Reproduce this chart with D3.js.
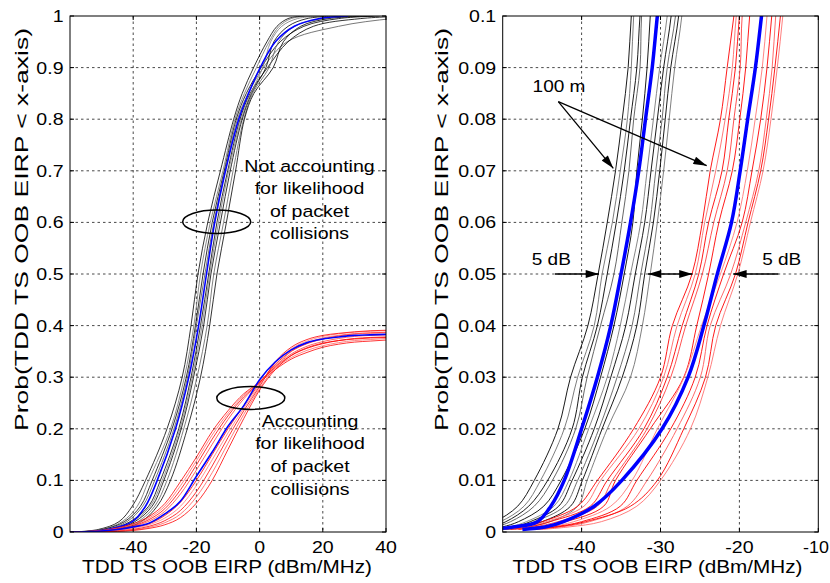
<!DOCTYPE html>
<html>
<head>
<meta charset="utf-8">
<script src="https://cdn.jsdelivr.net/npm/d3@7"></script>
<style>
  html, body { margin: 0; padding: 0; background: #fff; }
  svg { display: block; font-family: "Liberation Sans", Arial, Helvetica, sans-serif; }
</style>
</head>
<body>
<svg id="chart" width="830" height="583"></svg>
<script>
// ---------- Overview panel: full CDFs ----------
// Probability levels at which the "not accounting" curves are sampled (x in dBm/MHz)
const overviewLevels = [0, 0.005, 0.02, 0.05, 0.1, 0.2, 0.3, 0.4, 0.5, 0.6, 0.7, 0.8, 0.85, 0.9, 0.95, 0.98, 0.995, 1];
const overviewBlack = [
  [-59, -51, -44.5, -40.3, -36.1, -29.3, -24.5, -21.7, -19.5, -16.4, -12.4, -8.2, -5.5, -1.9, 2.3, 5.5, 9, 14],
  [-58, -50, -43.5, -38.7, -35.1, -28.2, -23.8, -20.8, -18.7, -15.6, -11.6, -7.8, -4.8, -1.0, 3.0, 6.2, 10, 16],
  [-57.5, -49.5, -42.8, -37.7, -34.0, -27.7, -23.2, -20.3, -17.9, -15.0, -11.2, -7.4, -4.2, 0.5, 6.5, 14, 25, 38],
  [-57, -48.5, -42, -37.0, -33.2, -27.1, -22.8, -20.0, -17.3, -14.5, -10.9, -7.0, -3.6, 1.2, 8.7, 25, 42, 55],
  [-56.5, -47.5, -41, -35.1, -31.4, -25.6, -21.7, -18.7, -16.1, -13.5, -10.1, -6.2, -3.0, 2.5, 9.0, 17, 32, 48],
  [-56, -47, -40.3, -34.6, -30.8, -25.2, -21.3, -18.2, -15.8, -13.0, -9.8, -5.8, -2.8, 1.0, 3.5, 7.0, 12, 20],
  [-55.5, -46, -39.5, -34.0, -30.3, -24.8, -20.9, -17.7, -15.4, -12.4, -9.3, -5.5, -2.5, 2.0, 4.5, 9, 15, 24],
  [-55, -45.5, -38.5, -33.2, -29.3, -24.0, -19.8, -16.6, -14.5, -11.4, -8.4, -5.0, -2.2, 3.0, 6.0, 11, 20, 32],
  [-54.5, -45, -37.5, -32.4, -28.2, -22.9, -18.7, -15.8, -13.5, -10.5, -7.6, -4.8, -1.8, 4.3, 7.5, 13, 22, 36]
];
const overviewBlackMean = [-56, -48, -40.3, -36.1, -32.4, -26.6, -22.4, -19.3, -16.8, -14.2, -10.8, -6.6, -3.5, 0.2, 5.0, 11, 19, 28];

// EIRP grid (dBm/MHz) at which the "accounting" curves are sampled (values are probabilities)
const overviewGridX = [-60, -55, -50, -45, -40, -35, -30, -25, -20, -15, -10, -5, 0, 5, 10, 15, 20, 25, 30, 35, 40];
const overviewRed = [
  [0, 0.001, 0.003, 0.008, 0.016, 0.03, 0.055, 0.098, 0.145, 0.195, 0.235, 0.268, 0.29, 0.315, 0.335, 0.348, 0.358, 0.364, 0.368, 0.370, 0.372],
  [0, 0.001, 0.0025, 0.007, 0.014, 0.027, 0.05, 0.09, 0.138, 0.188, 0.23, 0.265, 0.292, 0.318, 0.338, 0.352, 0.361, 0.367, 0.371, 0.373, 0.375],
  [0, 0.0008, 0.002, 0.006, 0.012, 0.024, 0.045, 0.082, 0.13, 0.18, 0.225, 0.262, 0.29, 0.32, 0.342, 0.356, 0.365, 0.371, 0.375, 0.377, 0.378],
  [0, 0.0006, 0.002, 0.005, 0.011, 0.021, 0.04, 0.074, 0.12, 0.17, 0.218, 0.258, 0.29, 0.322, 0.345, 0.36, 0.369, 0.375, 0.379, 0.381, 0.382],
  [0, 0.0005, 0.0015, 0.004, 0.009, 0.016, 0.032, 0.058, 0.1, 0.15, 0.2, 0.245, 0.288, 0.325, 0.35, 0.365, 0.374, 0.38, 0.384, 0.386, 0.387],
  [0, 0.0004, 0.001, 0.003, 0.007, 0.014, 0.027, 0.05, 0.09, 0.14, 0.192, 0.24, 0.285, 0.328, 0.355, 0.37, 0.379, 0.384, 0.387, 0.389, 0.39],
  [0, 0.0003, 0.001, 0.002, 0.005, 0.011, 0.022, 0.042, 0.078, 0.128, 0.183, 0.235, 0.282, 0.33, 0.358, 0.373, 0.381, 0.385, 0.388, 0.39, 0.391],
  [0, 0.0002, 0.0007, 0.0015, 0.004, 0.009, 0.018, 0.035, 0.068, 0.115, 0.172, 0.228, 0.278, 0.32, 0.35, 0.366, 0.376, 0.381, 0.384, 0.385, 0.386],
  [0, 0.0001, 0.0005, 0.001, 0.003, 0.007, 0.014, 0.028, 0.056, 0.1, 0.16, 0.22, 0.275, 0.315, 0.342, 0.357, 0.366, 0.371, 0.374, 0.376, 0.377]
];
const overviewRedMean = [0, 0.0005, 0.002, 0.005, 0.01, 0.017, 0.035, 0.06, 0.108, 0.155, 0.205, 0.245, 0.295, 0.33, 0.353, 0.367, 0.374, 0.378, 0.381, 0.382, 0.383];

// ---------- Tail panel: lower 10% of the CDFs ----------
const tailLevels = [0.0005, 0.001, 0.002, 0.005, 0.01, 0.02, 0.03, 0.04, 0.05, 0.06, 0.07, 0.08, 0.09, 0.1, 0.11];
const tailBlack = [
  [-56, -53, -51, -48.1, -46.0, -43.0, -41.4, -39.2, -37.9, -36.75, -35.7, -34.85, -34.1, -33.7, -33.1],
  [-55, -52.5, -50.3, -47.3, -45.2, -42.2, -40.5, -38.4, -37.4, -36.1, -35.1, -34.2, -33.7, -33.4, -32.8],
  [-54, -51.5, -49.6, -46.7, -44.3, -41.2, -39.9, -38.0, -36.75, -35.6, -34.6, -33.8, -33.0, -32.6, -32.0],
  [-53.5, -51, -49, -46.0, -43.7, -40.75, -39.3, -37.6, -35.9, -34.9, -34.0, -33.4, -32.6, -32.4, -31.8],
  [-52, -50, -48, -44.8, -42.6, -39.6, -37.6, -35.9, -34.6, -33.5, -33.0, -32.3, -31.7, -31.3, -30.9],
  [-51, -49, -47, -43.5, -41.6, -39.1, -36.75, -35.1, -33.8, -32.5, -31.7, -30.9, -30.1, -29.15, -28.6],
  [-50.5, -48.5, -46.5, -42.9, -41.2, -38.4, -36.3, -34.4, -33.2, -32.0, -31.2, -30.4, -29.6, -28.65, -28.1],
  [-50, -48, -46, -42.2, -40.5, -37.8, -35.5, -33.6, -32.5, -31.35, -30.6, -29.8, -29.15, -28.1, -27.6],
  [-49.5, -47.5, -45, -41.4, -39.9, -37.4, -34.85, -33.0, -32.0, -30.9, -30.1, -29.4, -28.7, -27.7, -27.2],
  [-49, -47, -44, -40.5, -39.3, -36.75, -33.8, -32.3, -31.3, -30.4, -29.6, -28.9, -28.2, -27.3, -26.8]
];
const tailBlackMean = [-52, -48.5, -45.6, -43.9, -42.2, -40.0, -38.0, -36.3, -35.0, -33.8, -32.75, -31.9, -31.05, -30.4, -29.7];
const tailRed = [
  [-50, -47.5, -45, -40.5, -38.0, -33.4, -30.0, -28.5, -26.0, -24.7, -23.7, -22.4, -21.55, -20.7, -19.9],
  [-49.5, -47, -44.5, -39.7, -37.6, -32.75, -29.6, -27.9, -25.6, -24.4, -23.0, -21.8, -20.9, -20.4, -19.6],
  [-49, -46.5, -44, -38.9, -36.75, -32.1, -29.15, -27.25, -25.15, -23.9, -22.2, -21.35, -20.5, -20.0, -19.3],
  [-48.5, -46, -43, -38.0, -36.1, -31.7, -28.7, -26.8, -24.7, -23.25, -21.55, -20.7, -19.9, -19.65, -18.9],
  [-48, -45, -42, -37.2, -35.7, -31.3, -27.05, -25.4, -23.9, -22.6, -20.9, -19.95, -19.2, -18.7, -18.0],
  [-47, -44, -41, -36.3, -33.6, -30.4, -27.0, -24.8, -22.4, -20.3, -19.0, -18.0, -17.1, -16.5, -15.9],
  [-46.5, -43.5, -40, -35.1, -33.0, -28.7, -25.6, -24.1, -22.0, -19.65, -18.4, -17.3, -16.5, -15.9, -15.3],
  [-45.5, -42.5, -39, -34.2, -31.7, -27.9, -24.95, -23.7, -21.1, -19.2, -17.55, -16.6, -15.85, -15.4, -14.8],
  [-46, -43, -39.5, -33.8, -30.4, -27.05, -24.3, -23.0, -20.5, -18.9, -17.3, -16.3, -15.5, -14.8, -14.2],
  [-45, -41.5, -37.5, -33.0, -30.0, -26.2, -24.0, -22.4, -20.2, -18.6, -17.0, -16.0, -15.2, -14.5, -13.9]
];
const tailRedMean = [-47.5, -44.5, -42.3, -38.4, -34.9, -29.8, -26.5, -24.5, -22.8, -21.0, -19.9, -18.95, -17.97, -17.2, -16.5];

// ---------- Ticks ----------
const overviewXTicks = [-40, -20, 0, 20, 40];
const overviewXTickLabels = ["-40", "-20", "0", "20", "40"];
const overviewYTicks = [0, 0.1, 0.2, 0.3, 0.4, 0.5, 0.6, 0.7, 0.8, 0.9, 1];
const overviewYTickLabels = ["0", "0.1", "0.2", "0.3", "0.4", "0.5", "0.6", "0.7", "0.8", "0.9", "1"];
const tailXTicks = [-40, -30, -20, -10];
const tailXTickLabels = ["-40", "-30", "-20", "-10"];
const tailYTicks = [0, 0.01, 0.02, 0.03, 0.04, 0.05, 0.06, 0.07, 0.08, 0.09, 0.1];
const tailYTickLabels = ["0", "0.01", "0.02", "0.03", "0.04", "0.05", "0.06", "0.07", "0.08", "0.09", "0.1"];

const xAxisTitle = "TDD TS OOB EIRP (dBm/MHz)";
const yAxisTitle = "Prob(TDD TS OOB EIRP < x-axis)";

// ---------- Drawing ----------
const svg = d3.select("#chart");
svg.append("rect").attr("width", 830).attr("height", 583).attr("fill", "#fff");
const defs = svg.append("defs");
defs.append("marker")
  .attr("id", "head")
  .attr("viewBox", "0 0 10 6")
  .attr("refX", 10).attr("refY", 3)
  .attr("markerUnits", "userSpaceOnUse")
  .attr("markerWidth", 15).attr("markerHeight", 8)
  .attr("orient", "auto-start-reverse")
  .append("path").attr("d", "M0,0 L10,3 L0,6 Z").attr("fill", "#000");

const FONT = 17, STRETCH = 1.15;

function stretchedText(g, x, y, txt, opt = {}) {
  const grp = g.append("g")
    .attr("transform", `translate(${x},${y}) rotate(${opt.rotate || 0}) scale(${opt.sx || STRETCH},1)`);
  const t = grp.append("text")
    .attr("text-anchor", opt.anchor || "middle")
    .attr("font-size", opt.size || FONT)
    .attr("fill", "#000")
    .text(txt);
  if (opt.length) t.attr("textLength", opt.length).attr("lengthAdjust", "spacingAndGlyphs");
  return t;
}

function makePanel(cfg) {
  const x = d3.scaleLinear().domain(cfg.xDomain).range([cfg.left, cfg.right]);
  const y = d3.scaleLinear().domain(cfg.yDomain).range([cfg.bottom, cfg.top]);
  const g = svg.append("g");
  const clipId = cfg.id + "-clip";
  defs.append("clipPath").attr("id", clipId)
    .append("rect").attr("x", cfg.left).attr("y", cfg.top)
    .attr("width", cfg.right - cfg.left).attr("height", cfg.bottom - cfg.top);

  // dotted grid
  const grid = g.append("g").attr("stroke", "#1a1a1a").attr("stroke-width", 0.8)
    .attr("stroke-dasharray", "2.5,3");
  grid.selectAll(".gx").data(cfg.xTicks.filter(v => v > cfg.xDomain[0] && v < cfg.xDomain[1]))
    .join("line").attr("x1", d => x(d)).attr("x2", d => x(d))
    .attr("y1", cfg.top).attr("y2", cfg.bottom);
  grid.selectAll(".gy").data(cfg.yTicks.filter(v => v > cfg.yDomain[0] && v < cfg.yDomain[1]))
    .join("line").attr("y1", d => y(d)).attr("y2", d => y(d))
    .attr("x1", cfg.left).attr("x2", cfg.right);

  const plot = g.append("g").attr("clip-path", `url(#${clipId})`);
  return { x, y, g, plot };
}

function finishPanel(p, cfg) {
  const { x, y, g } = p;
  // inward tick marks (bottom/top and left/right)
  const ticks = g.append("g").attr("stroke", "#000").attr("stroke-width", 1);
  cfg.xTicks.forEach(v => {
    ticks.append("line").attr("x1", x(v)).attr("x2", x(v)).attr("y1", cfg.bottom).attr("y2", cfg.bottom - 4);
    ticks.append("line").attr("x1", x(v)).attr("x2", x(v)).attr("y1", cfg.top).attr("y2", cfg.top + 4);
  });
  cfg.yTicks.forEach(v => {
    ticks.append("line").attr("y1", y(v)).attr("y2", y(v)).attr("x1", cfg.left).attr("x2", cfg.left + 4);
    ticks.append("line").attr("y1", y(v)).attr("y2", y(v)).attr("x1", cfg.right).attr("x2", cfg.right - 4);
  });
  // axes box
  g.append("rect").attr("x", cfg.left).attr("y", cfg.top)
    .attr("width", cfg.right - cfg.left).attr("height", cfg.bottom - cfg.top)
    .attr("fill", "none").attr("stroke", "#000").attr("stroke-width", 1);

  // tick labels (the last label is kept inside the canvas edge)
  cfg.xTicks.forEach((v, i) => {
    const px = Math.min(x(v), 816);
    stretchedText(g, px, 553, cfg.xTickLabels[i], { sx: px < x(v) ? 1.05 : STRETCH });
  });
  cfg.yTicks.forEach((v, i) => stretchedText(g, cfg.left - 6.5, y(v) + 6, cfg.yTickLabels[i], { anchor: "end" }));

  // axis titles
  stretchedText(g, (cfg.left + cfg.right) / 2 - cfg.xTitleShift, 573, xAxisTitle, { size: 18, sx: 1, length: 290 });
  stretchedText(g, cfg.yTitleX, 229.5, yAxisTitle, { size: 19, sx: 1, rotate: -90, length: 403 });
}

// ===== Overview panel =====
const cfgL = {
  id: "overview", left: 70, right: 386, top: 16, bottom: 532,
  xDomain: [-60, 40], yDomain: [0, 1],
  xTicks: overviewXTicks, xTickLabels: overviewXTickLabels,
  yTicks: overviewYTicks, yTickLabels: overviewYTickLabels,
  yTitleX: 28, xTitleShift: 1
};
const L = makePanel(cfgL);

const lineByLevel = (xs, ys, levels) => d3.line()
  .x(d => xs(d)).y((d, i) => ys(levels[i]))
  .curve(d3.curveCatmullRom.alpha(0.5));
const lineByGrid = (xs, ys, grid) => d3.line()
  .x((d, i) => xs(grid[i])).y(d => ys(d))
  .curve(d3.curveMonotoneX);

const blackTones = ["#000", "#6f6f6f", "#000", "#555", "#000", "#7a7a7a", "#000", "#5f5f5f", "#000", "#707070"];
const redTones = ["#ff0000", "#ff6a6a", "#ff0000", "#ff4040", "#ff0000", "#ff7a7a", "#ff0000", "#ff5a5a", "#ff0000", "#ff6f6f"];

L.plot.selectAll(".ob").data(overviewBlack).join("path")
  .attr("d", lineByLevel(L.x, L.y, overviewLevels))
  .attr("fill", "none").attr("stroke", (d, i) => blackTones[i]).attr("stroke-width", 0.8);
L.plot.append("path").datum(overviewBlackMean)
  .attr("d", lineByLevel(L.x, L.y, overviewLevels))
  .attr("fill", "none").attr("stroke", "#0000ff").attr("stroke-width", 1.6);

L.plot.selectAll(".or").data(overviewRed).join("path")
  .attr("d", lineByGrid(L.x, L.y, overviewGridX))
  .attr("fill", "none").attr("stroke", (d, i) => redTones[i]).attr("stroke-width", 0.8);
L.plot.append("path").datum(overviewRedMean)
  .attr("d", lineByGrid(L.x, L.y, overviewGridX))
  .attr("fill", "none").attr("stroke", "#0000ff").attr("stroke-width", 1.6);

// group annotations
L.g.append("ellipse").attr("cx", 216.7).attr("cy", 221.7).attr("rx", 34).attr("ry", 11.7)
  .attr("fill", "none").attr("stroke", "#000").attr("stroke-width", 1.5);
L.g.append("ellipse").attr("cx", 250.8).attr("cy", 398).attr("rx", 34).attr("ry", 11.4)
  .attr("fill", "none").attr("stroke", "#000").attr("stroke-width", 1.5);
["Not accounting", "for likelihood", "of packet", "collisions"].forEach((s, i) =>
  stretchedText(L.g, 309.5, 171.5 + i * 22.6, s));
["Accounting", "for likelihood", "of packet", "collisions"].forEach((s, i) =>
  stretchedText(L.g, 310, 426.5 + i * 22.7, s));

finishPanel(L, cfgL);

// ===== Tail panel =====
const cfgR = {
  id: "tail", left: 502.7, right: 818.3, top: 16, bottom: 532,
  xDomain: [-50, -10], yDomain: [0, 0.1],
  xTicks: tailXTicks, xTickLabels: tailXTickLabels,
  yTicks: tailYTicks, yTickLabels: tailYTickLabels,
  yTitleX: 448, xTitleShift: 3
};
const R = makePanel(cfgR);
const tailLine = d3.line().x(d => R.x(d)).y((d, i) => R.y(tailLevels[i]))
  .curve(d3.curveCatmullRom.alpha(0.5));

R.plot.selectAll(".tb").data(tailBlack).join("path")
  .attr("d", tailLine).attr("fill", "none")
  .attr("stroke", (d, i) => blackTones[i]).attr("stroke-width", 0.9);
R.plot.selectAll(".tr").data(tailRed).join("path")
  .attr("d", tailLine).attr("fill", "none")
  .attr("stroke", (d, i) => redTones[i]).attr("stroke-width", 0.9);
R.plot.selectAll(".tm").data([tailBlackMean, tailRedMean]).join("path")
  .attr("d", tailLine).attr("fill", "none")
  .attr("stroke", "#0000ff").attr("stroke-width", 3.5).attr("stroke-linejoin", "round");

// "100 m" callout
const arrows = R.g.append("g").attr("stroke", "#000").attr("stroke-width", 1.3).attr("fill", "none");
arrows.append("line").attr("x1", 558.3).attr("y1", 101.7).attr("x2", 613.3).attr("y2", 168.3).attr("marker-end", "url(#head)");
arrows.append("line").attr("x1", 558.3).attr("y1", 101.7).attr("x2", 706.7).attr("y2", 165.7).attr("marker-end", "url(#head)");
stretchedText(R.g, 559, 91.5, "100 m", { sx: 1.12 });

// 5 dB spacing markers at p = 0.05
const y05 = R.y(0.05);
arrows.append("line").attr("x1", 555).attr("y1", y05).attr("x2", 599).attr("y2", y05).attr("marker-end", "url(#head)");
arrows.append("line").attr("x1", 648).attr("y1", y05).attr("x2", 692.5).attr("y2", y05)
  .attr("marker-start", "url(#head)").attr("marker-end", "url(#head)");
arrows.append("line").attr("x1", 778.3).attr("y1", y05).attr("x2", 733.3).attr("y2", y05).attr("marker-end", "url(#head)");
stretchedText(R.g, 551.3, 265, "5 dB", { sx: 1.12 });
stretchedText(R.g, 781.7, 265, "5 dB", { sx: 1.12 });

finishPanel(R, cfgR);
</script>
</body>
</html>
